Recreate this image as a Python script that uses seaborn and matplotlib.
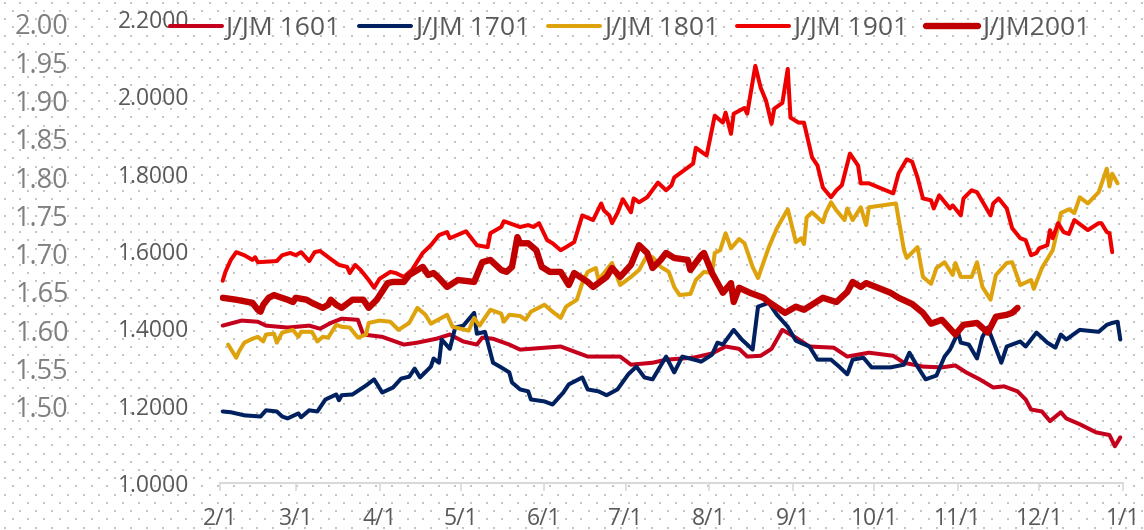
import numpy as np
import pandas as pd
import matplotlib
matplotlib.use("Agg")
import matplotlib.pyplot as plt
import seaborn as sns

# ---------------- data (days since Feb 1, values) ----------------
series_names = ["J/JM 1601", "J/JM 1701", "J/JM 1801", "J/JM 1901", "J/JM2001"]

day_1601 = [1, 8, 14, 17, 25, 33, 37, 41, 45, 51,
            53, 60, 68, 73, 80, 85, 90, 95, 97, 101,
            107, 111, 126, 136, 148, 152, 160, 165, 175, 182,
            187, 192, 195, 200, 204, 208, 213, 218, 227, 232,
            240, 249, 253, 260, 267, 272, 276, 281, 286, 290,
            295, 298, 300, 304, 307, 311, 313, 318, 324, 329,
            331, 333]
val_1601 = [1.407, 1.420, 1.417, 1.407, 1.402, 1.407, 1.399, 1.414, 1.425, 1.422,
            1.384, 1.378, 1.358, 1.363, 1.373, 1.384, 1.366, 1.358, 1.376, 1.373,
            1.358, 1.345, 1.353, 1.327, 1.327, 1.306, 1.311, 1.319, 1.324, 1.335,
            1.353, 1.347, 1.327, 1.329, 1.347, 1.396, 1.376, 1.353, 1.350, 1.327,
            1.337, 1.329, 1.311, 1.301, 1.299, 1.304, 1.286, 1.268, 1.247, 1.250,
            1.237, 1.216, 1.190, 1.185, 1.160, 1.183, 1.167, 1.152, 1.131, 1.124,
            1.095, 1.118]

day_1701 = [1, 4, 9, 15, 17, 21, 23, 25, 29, 30,
            33, 36, 39, 43, 44, 45, 49, 54, 57, 60,
            64, 67, 70, 72, 74, 78, 79, 81, 82, 85,
            87, 90, 94, 95, 98, 101, 104, 107, 108, 111,
            114, 115, 120, 123, 127, 129, 134, 136, 140, 143,
            147, 151, 154, 157, 160, 165, 168, 171, 178, 182,
            184, 186, 190, 193, 197, 199, 203, 206, 210, 213,
            218, 221, 226, 229, 232, 234, 238, 241, 248, 253,
            255, 258, 261, 265, 268, 270, 273, 274, 277, 280,
            282, 284, 286, 289, 291, 296, 298, 302, 306, 309,
            311, 313, 318, 325, 328, 330, 332, 333]
val_1701 = [1.185, 1.183, 1.175, 1.172, 1.188, 1.185, 1.172, 1.167, 1.180, 1.170,
            1.188, 1.185, 1.216, 1.229, 1.214, 1.227, 1.229, 1.252, 1.268, 1.234,
            1.247, 1.270, 1.275, 1.296, 1.273, 1.301, 1.322, 1.311, 1.371, 1.347,
            1.402, 1.407, 1.440, 1.386, 1.391, 1.311, 1.299, 1.286, 1.260, 1.242,
            1.237, 1.216, 1.211, 1.203, 1.234, 1.255, 1.273, 1.242, 1.237, 1.227,
            1.242, 1.281, 1.301, 1.273, 1.268, 1.327, 1.286, 1.327, 1.314, 1.332,
            1.363, 1.358, 1.396, 1.371, 1.345, 1.456, 1.466, 1.435, 1.404, 1.368,
            1.353, 1.319, 1.319, 1.301, 1.281, 1.319, 1.324, 1.299, 1.299, 1.306,
            1.337, 1.301, 1.268, 1.278, 1.327, 1.345, 1.389, 1.363, 1.358, 1.322,
            1.378, 1.402, 1.366, 1.311, 1.353, 1.366, 1.353, 1.389, 1.363, 1.350,
            1.384, 1.371, 1.396, 1.391, 1.409, 1.414, 1.417, 1.371]

day_1801 = [3, 6, 7, 9, 12, 14, 16, 17, 20, 21,
            23, 27, 29, 30, 34, 36, 38, 40, 43, 45,
            48, 51, 54, 55, 59, 63, 66, 70, 73, 76,
            78, 84, 86, 92, 94, 96, 100, 104, 105, 107,
            111, 113, 115, 120, 123, 126, 128, 132, 134, 136,
            139, 140, 145, 148, 152, 155, 158, 160, 163, 166,
            168, 170, 174, 176, 179, 182, 183, 185, 187, 189,
            192, 194, 197, 199, 203, 206, 210, 213, 215, 216,
            217, 219, 223, 224, 226, 228, 231, 232, 234, 237,
            239, 240, 250, 253, 254, 258, 260, 263, 265, 268,
            271, 272, 274, 278, 280, 282, 285, 287, 291, 293,
            296, 300, 301, 304, 308, 310, 311, 314, 316, 318,
            321, 325, 328, 329, 330, 332]
val_1801 = [1.358, 1.324, 1.340, 1.363, 1.373, 1.378, 1.366, 1.384, 1.386, 1.363,
            1.389, 1.396, 1.378, 1.391, 1.391, 1.366, 1.378, 1.376, 1.409, 1.404,
            1.402, 1.376, 1.384, 1.414, 1.420, 1.417, 1.396, 1.414, 1.453, 1.435,
            1.412, 1.435, 1.404, 1.394, 1.427, 1.407, 1.448, 1.438, 1.417, 1.435,
            1.432, 1.422, 1.443, 1.461, 1.443, 1.427, 1.456, 1.474, 1.517, 1.546,
            1.556, 1.525, 1.569, 1.512, 1.533, 1.551, 1.589, 1.584, 1.559, 1.546,
            1.507, 1.486, 1.489, 1.525, 1.546, 1.543, 1.595, 1.602, 1.646, 1.607,
            1.631, 1.620, 1.559, 1.530, 1.610, 1.659, 1.708, 1.623, 1.633, 1.618,
            1.687, 1.700, 1.674, 1.698, 1.726, 1.705, 1.680, 1.710, 1.680, 1.713,
            1.667, 1.713, 1.723, 1.602, 1.582, 1.610, 1.533, 1.515, 1.556, 1.571,
            1.538, 1.569, 1.533, 1.533, 1.571, 1.507, 1.474, 1.538, 1.569, 1.571,
            1.512, 1.525, 1.502, 1.556, 1.602, 1.662, 1.698, 1.708, 1.698, 1.739,
            1.723, 1.752, 1.813, 1.767, 1.800, 1.775]

day_1901 = [1, 2, 4, 6, 9, 12, 13, 14, 21, 23,
            26, 28, 30, 33, 35, 37, 41, 43, 44, 47,
            48, 50, 52, 55, 57, 59, 63, 65, 68, 71,
            75, 78, 81, 84, 85, 91, 95, 99, 100, 104,
            105, 111, 114, 116, 118, 121, 123, 126, 128, 131,
            134, 138, 141, 142, 144, 145, 147, 149, 152, 153,
            155, 158, 162, 165, 167, 168, 175, 176, 180, 183,
            186, 187, 189, 190, 194, 195, 198, 200, 202, 204,
            205, 208, 210, 211, 214, 216, 219, 221, 223, 226,
            228, 230, 233, 236, 237, 240, 249, 251, 254, 256,
            258, 260, 263, 264, 266, 270, 271, 274, 275, 278,
            280, 285, 286, 288, 291, 293, 296, 298, 300, 302,
            303, 306, 307, 308, 310, 312, 314, 316, 321, 325,
            326, 328, 329, 330]
val_1901 = [1.523, 1.546, 1.577, 1.597, 1.589, 1.577, 1.584, 1.571, 1.574, 1.589,
            1.595, 1.589, 1.597, 1.574, 1.597, 1.600, 1.579, 1.569, 1.564, 1.559,
            1.543, 1.564, 1.551, 1.525, 1.505, 1.528, 1.546, 1.543, 1.533, 1.551,
            1.595, 1.615, 1.641, 1.649, 1.633, 1.651, 1.615, 1.610, 1.646, 1.662,
            1.677, 1.662, 1.667, 1.662, 1.672, 1.628, 1.620, 1.602, 1.610, 1.623,
            1.692, 1.680, 1.723, 1.705, 1.692, 1.672, 1.698, 1.734, 1.700, 1.736,
            1.726, 1.739, 1.777, 1.757, 1.770, 1.790, 1.826, 1.867, 1.847, 1.950,
            1.932, 1.958, 1.903, 1.955, 1.970, 1.955, 2.079, 2.022, 1.988, 1.929,
            1.968, 1.983, 2.071, 1.945, 1.932, 1.932, 1.842, 1.821, 1.764, 1.739,
            1.757, 1.770, 1.852, 1.821, 1.775, 1.775, 1.749, 1.801, 1.837, 1.831,
            1.790, 1.736, 1.731, 1.710, 1.744, 1.710, 1.718, 1.692, 1.736, 1.757,
            1.752, 1.692, 1.723, 1.736, 1.710, 1.659, 1.633, 1.628, 1.589, 1.595,
            1.607, 1.615, 1.654, 1.633, 1.672, 1.649, 1.644, 1.680, 1.654, 1.672,
            1.672, 1.649, 1.646, 1.597]

day_2001 = [1, 6, 12, 14, 15, 16, 18, 20, 22, 25,
            27, 28, 32, 34, 38, 40, 41, 43, 45, 49,
            53, 55, 58, 62, 64, 68, 70, 75, 77, 79,
            81, 84, 88, 94, 97, 100, 104, 106, 108, 110,
            111, 114, 117, 119, 122, 126, 129, 131, 136, 138,
            143, 145, 148, 152, 155, 158, 160, 163, 165, 168,
            173, 174, 178, 179, 182, 186, 189, 190, 192, 196,
            201, 203, 209, 213, 216, 223, 228, 232, 234, 237,
            239, 248, 251, 256, 260, 263, 267, 272, 275, 280,
            284, 287, 291, 293, 295]
val_2001 = [1.479, 1.474, 1.466, 1.448, 1.443, 1.461, 1.479, 1.486, 1.481, 1.474,
            1.468, 1.479, 1.474, 1.466, 1.453, 1.461, 1.474, 1.461, 1.453, 1.474,
            1.474, 1.453, 1.474, 1.517, 1.520, 1.520, 1.538, 1.559, 1.538, 1.543,
            1.530, 1.507, 1.525, 1.520, 1.571, 1.577, 1.551, 1.546, 1.559, 1.636,
            1.620, 1.620, 1.602, 1.559, 1.546, 1.546, 1.512, 1.543, 1.520, 1.507,
            1.533, 1.556, 1.533, 1.564, 1.615, 1.595, 1.556, 1.577, 1.595, 1.582,
            1.577, 1.551, 1.589, 1.595, 1.543, 1.492, 1.517, 1.468, 1.505, 1.492,
            1.479, 1.468, 1.440, 1.456, 1.448, 1.479, 1.468, 1.494, 1.520, 1.507,
            1.517, 1.492, 1.479, 1.463, 1.440, 1.412, 1.422, 1.384, 1.409, 1.414,
            1.389, 1.430, 1.435, 1.440, 1.453]

x_tick_labels = ["2/1", "3/1", "4/1", "5/1", "6/1", "7/1", "8/1", "9/1",
                 "10/1", "11/1", "12/1", "1/1"]
inner_ticks = [1.0, 1.2, 1.4, 1.6, 1.8, 2.0, 2.2]
outer_ticks = [1.50, 1.55, 1.60, 1.65, 1.70, 1.75, 1.80, 1.85, 1.90, 1.95, 2.00]

# ---------------- styling ----------------
colors = ["#C5001C", "#002060", "#DDA20C", "#EE0000", "#C00000"]
widths = [2.9, 2.9, 2.9, 2.9, 4.6]

sns.set_theme(style="white")
plt.rcParams["font.family"] = ["Open Sans", "DejaVu Sans"]

W, H = 1144, 530
fig = plt.figure(figsize=(W / 100, H / 100), dpi=100)
fig.patch.set_facecolor("white")

# dotted background pattern
bg = fig.add_axes([0, 0, 1, 1])
bg.set_xlim(0, W)
bg.set_ylim(H, 0)
bg.axis("off")
bx, by = [], []
for k, yy in enumerate(np.arange(2.7, H, 8.2)):
    off = 12.5 if k % 2 == 1 else 4.6
    xs = np.arange(off, W, 15.8)
    bx.extend(xs)
    by.extend([yy] * len(xs))
bg.scatter(bx, by, s=2.2, color="#C4C4C4", linewidths=0, marker="s")
bg.set_zorder(0)

left, right, top, bottom = 220, 1123, 19, 483
ax = fig.add_axes([left / W, 1 - bottom / H, (right - left) / W, (bottom - top) / H])
ax.set_zorder(2)
ax.patch.set_alpha(0)

base = pd.Timestamp("2019-02-01")
all_days = [day_1601, day_1701, day_1801, day_1901, day_2001]
all_vals = [val_1601, val_1701, val_1801, val_1901, val_2001]
handles = []
for name, d, v, c, lw in zip(series_names, all_days, all_vals, colors, widths):
    df = pd.DataFrame({"date": base + pd.to_timedelta(d, unit="D"), "value": v})
    sns.lineplot(data=df, x="date", y="value", ax=ax, color=c, linewidth=lw,
                 estimator=None, sort=False, solid_capstyle="round",
                 solid_joinstyle="round")
    handles.append(ax.lines[-1])

ax.set_xlim(base, pd.Timestamp("2020-01-01"))
ax.set_ylim(1.0, 2.2)
ax.set_xlabel("")
ax.set_ylabel("")
month_starts = pd.date_range("2019-02-01", "2020-01-01", freq="MS")
ax.set_xticks(month_starts)
ax.set_xticklabels(x_tick_labels)
ax.set_yticks(inner_ticks)
ax.set_yticklabels([f"{t:.4f}" for t in inner_ticks])
for s in ["top", "right", "left"]:
    ax.spines[s].set_visible(False)
ax.spines["bottom"].set_color("#D9D9D9")
ax.spines["bottom"].set_linewidth(1.5)
ax.tick_params(axis="x", direction="out", length=6, width=1.2, color="#D9D9D9",
               labelsize=16.5, labelcolor="#595959", pad=11.5, bottom=True)
ax.tick_params(axis="y", length=0, labelsize=16.5, labelcolor="#595959", pad=22)
ax.grid(False)

# outer (secondary) scale on the far left
ax2 = ax.twinx()
ax2.set_zorder(1)
ax2.set_ylim(1.4005, 2.0065)
ax2.set_yticks(outer_ticks)
ax2.set_yticklabels([f"{t:.2f}" for t in outer_ticks])
ax2.yaxis.tick_left()
for s in ax2.spines.values():
    s.set_visible(False)
ax2.tick_params(axis="y", length=0, labelsize=19.5, labelcolor="#7F7F7F", pad=109,
                left=True, right=False, labelleft=True, labelright=False)
ax2.grid(False)

leg = fig.legend(handles, series_names, loc="center", ncol=5,
                 bbox_to_anchor=(630 / W, 1 - 29 / H), frameon=False,
                 fontsize=19, handlelength=1.95, handletextpad=0.15,
                 columnspacing=0.7, borderaxespad=0, borderpad=0)
for t in leg.get_texts():
    t.set_color("#595959")

fig.savefig("out.png", dpi=100)
